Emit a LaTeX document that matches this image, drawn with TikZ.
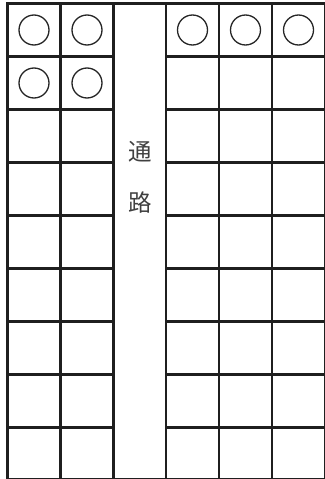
\documentclass[tikz,border=0pt]{standalone}
\usepackage{fontspec}
\newfontfamily\cjk{Noto Sans CJK JP}
\begin{document}
\begin{tikzpicture}[x=1pt,y=-1pt,
  gridline/.style={line width=2.7pt,color=black!88},
  edgeline/.style={line width=2.7pt,color=black!88},
  seat/.style={line width=1.3pt,color=black!85},
  label/.style={font=\cjk\fontsize{23.5}{23.5}\selectfont,text=black!75,inner sep=0pt}]
\useasboundingbox (0,0) rectangle (324,479);
% left block
\foreach \x in {7.5,60.5,113.5} \draw[gridline] (\x,3.5) -- (\x,481);
\foreach \k in {1,...,8} \draw[gridline] (7.5,3.5+53*\k) -- (113.5,3.5+53*\k);
% right block
\foreach \x in {166,219,272,325} \draw[gridline] (\x,3.5) -- (\x,481);
\foreach \k in {1,...,8} \draw[gridline] (166,3.5+53*\k) -- (325,3.5+53*\k);
% top and bottom borders
\draw[edgeline] (6.15,3.5) -- (326,3.5);
\draw[gridline] (7.5,479.5) -- (325,479.5);
% seats
\foreach \cx in {34,87} {
  \draw[seat] (\cx,30) circle (15);
  \draw[seat] (\cx,83) circle (15);
}
\foreach \cx in {192.5,245.5,298.5} \draw[seat] (\cx,30) circle (15);
% aisle label
\node[label] (t1) at (140.5,152) {通};
\node[label] (t2) at (140.5,203) {路};
\end{tikzpicture}
\end{document}
